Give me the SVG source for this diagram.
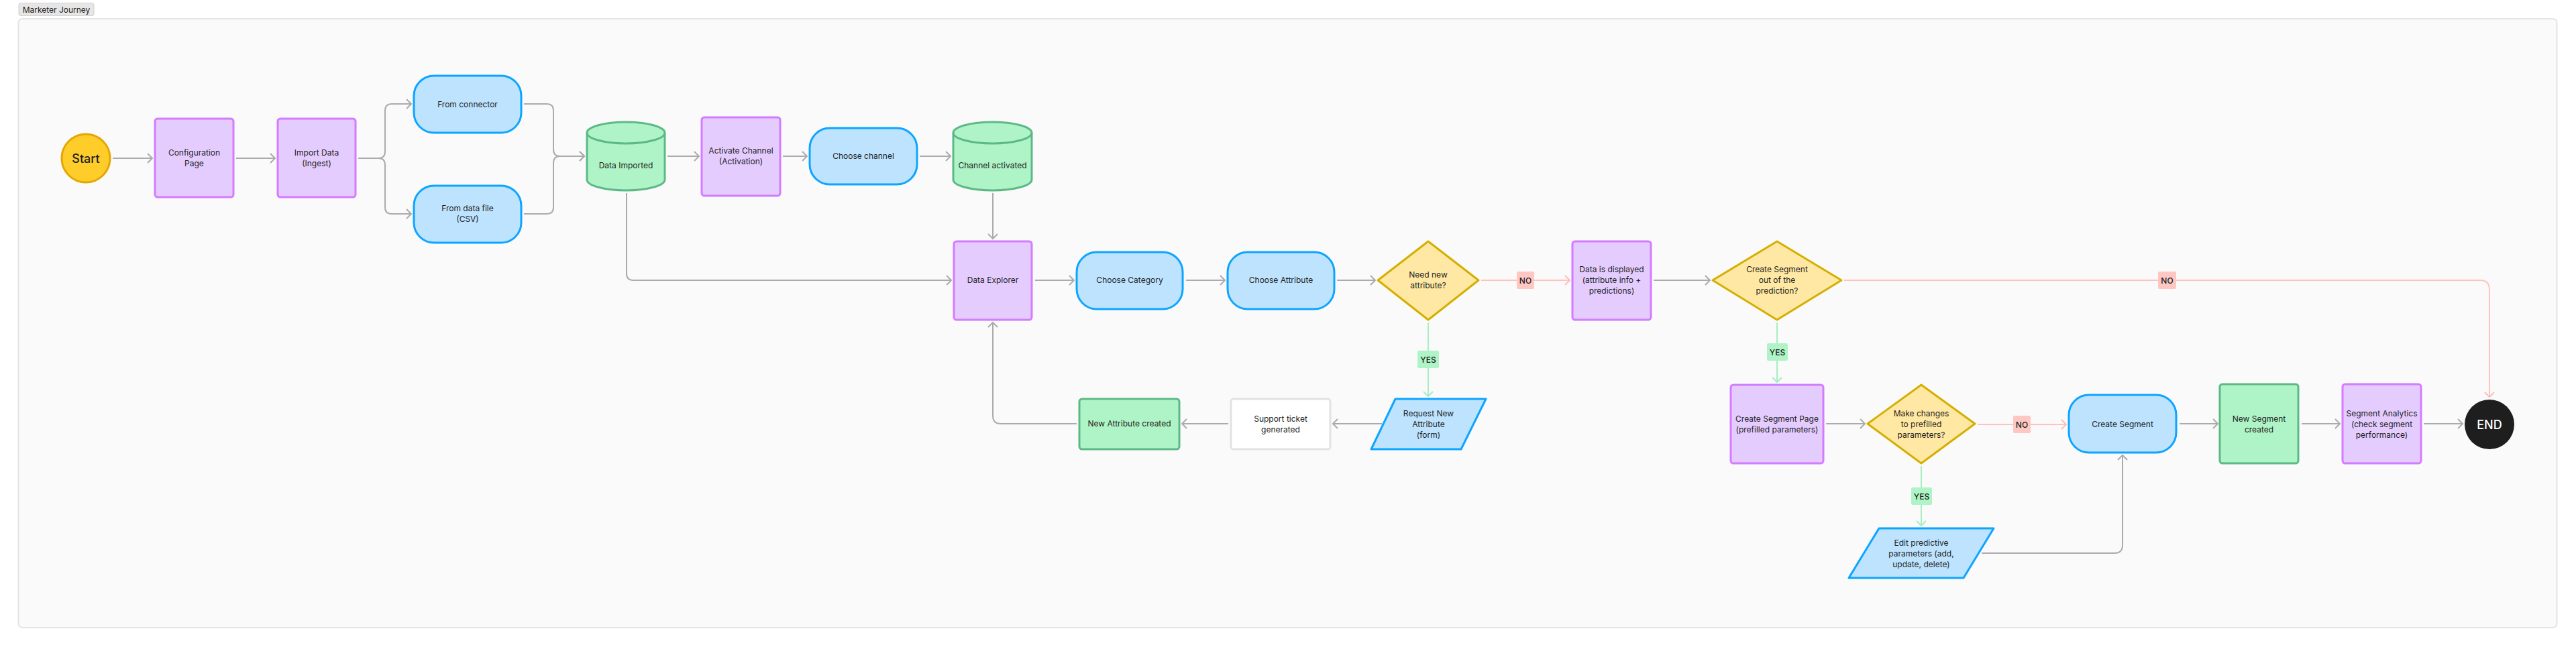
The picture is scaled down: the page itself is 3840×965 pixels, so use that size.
<svg xmlns="http://www.w3.org/2000/svg" width="3840" height="965" viewBox="0 0 3840 965">
<defs>
<marker id="ag" markerUnits="userSpaceOnUse" markerWidth="12" markerHeight="18" refX="8" refY="8" orient="auto"><path d="M1,1 L8,8 L1,15" fill="none" stroke="#ABABAB" stroke-width="2"/></marker>
<marker id="ar" markerUnits="userSpaceOnUse" markerWidth="12" markerHeight="18" refX="8" refY="8" orient="auto"><path d="M1,1 L8,8 L1,15" fill="none" stroke="#FFBDB7" stroke-width="2"/></marker>
<marker id="ay" markerUnits="userSpaceOnUse" markerWidth="12" markerHeight="18" refX="8" refY="8" orient="auto"><path d="M1,1 L8,8 L1,15" fill="none" stroke="#A6EEC0" stroke-width="2"/></marker>
<style>
text{font-family:Inter,"Liberation Sans",sans-serif;font-size:12px;fill:#1E1E1E;text-anchor:middle}
.p{fill:#E4CCFF;stroke:#D47BFF;stroke-width:3}
.b{fill:#BDE3FF;stroke:#0DA5FF;stroke-width:3}
.g{fill:#AFF4C6;stroke:#5CB987;stroke-width:3}
.y{fill:#FFE8A3;stroke:#D5AF00;stroke-width:3;stroke-linejoin:round}
.w{fill:#FFFFFF;stroke:#E2E2E2;stroke-width:3}
.c{fill:none;stroke:#ABABAB;stroke-width:2;marker-end:url(#ag)}
.cr{fill:none;stroke:#FFC2BC;stroke-width:2;marker-end:url(#ar)}
.cy{fill:none;stroke:#A6EEC0;stroke-width:2;marker-end:url(#ay)}
.ln{fill:#FFC7C2}
.ly{fill:#AFF4C6}
.lt{font-weight:500}
</style>
</defs>
<rect x="0" y="0" width="3840" height="965" fill="#FFFFFF"/>
<g id="frame">
<rect x="27.5" y="28" width="3784" height="908" rx="6" fill="#FAFAFA" stroke="#E4E4E4" stroke-width="2"/>
<rect x="28" y="4.5" width="112" height="19" rx="3" fill="#E6E6E6" stroke="#D0D0D0" stroke-width="1"/>
<text x="84" y="18.5" style="font-size:12px">Marketer Journey</text>
</g>
<g id="connectors">
<path class="c" d="M168,236 H227"/>
<path class="c" d="M352,236 H410"/>
<path class="c" d="M534,236 H564 Q574,236 574,226 V165 Q574,155 584,155 H613"/>
<path class="c" d="M534,236 H564 Q574,236 574,246 V309 Q574,319 584,319 H613"/>
<path class="c" d="M781,155 H815 Q825,155 825,165 V223 Q825,233 835,233 H871"/>
<path class="c" d="M781,319 H815 Q825,319 825,309 V243 Q825,233 835,233 H871"/>
<path class="c" d="M995,233 H1042"/>
<path class="c" d="M1167,233 H1203"/>
<path class="c" d="M1371,233 H1417"/>
<path class="c" d="M1480,288 V356"/>
<path class="c" d="M934,288 V408 Q934,418 944,418 H1418"/>
<path class="c" d="M1543,418 H1601"/>
<path class="c" d="M1768,418 H1826"/>
<path class="c" d="M1993,418 H2050"/>
<path class="cr" d="M2208,418 H2340"/>
<path class="cy" d="M2129,481 V591"/>
<path class="c" d="M2060,632 H1987"/>
<path class="c" d="M1831,632 H1762"/>
<path class="c" d="M1605,632 H1492 Q1480,632 1480,620 V481"/>
<path class="c" d="M2465,418 H2549"/>
<path class="cr" d="M2749,418 H3697 Q3711,418 3711,432 V592"/>
<path class="cy" d="M2649,481 V570"/>
<path class="c" d="M2722,632 H2780"/>
<path class="cr" d="M2948,633 H3080"/>
<path class="cy" d="M2864,695 V784"/>
<path class="c" d="M2954,825 H3152 Q3164,825 3164,813 V679"/>
<path class="c" d="M3249,632 H3306"/>
<path class="c" d="M3431,632 H3488"/>
<path class="c" d="M3613,632 H3671"/>
<rect class="ln" x="2261" y="405" width="26" height="26" rx="2"/><text class="lt" x="2274" y="422.5">NO</text>
<rect class="ly" x="2113" y="523" width="32" height="26" rx="2"/><text class="lt" x="2129" y="540.5">YES</text>
<rect class="ln" x="3217" y="405" width="27" height="26" rx="2"/><text class="lt" x="3230.5" y="422.5">NO</text>
<rect class="ly" x="2634" y="512" width="31" height="26" rx="2"/><text class="lt" x="2649.5" y="529.5">YES</text>
<rect class="ln" x="3001" y="620" width="26" height="26" rx="2"/><text class="lt" x="3014" y="637.5">NO</text>
<rect class="ly" x="2849" y="727" width="31" height="26" rx="2"/><text class="lt" x="2864.5" y="744.5">YES</text>
</g>
<g id="start">
<circle cx="128" cy="236" r="36" fill="#FFCD29" stroke="#E5A600" stroke-width="3"/>
<text x="128" y="242.5" style="font-size:18px;font-weight:500">Start</text>
</g>
<g id="config-page">
<rect class="p" x="231" y="177" width="117" height="117" rx="4"/>
<text x="289.5" y="232">Configuration</text><text x="289.5" y="248">Page</text>
</g>
<g id="import-data">
<rect class="p" x="414" y="177" width="116" height="117" rx="4"/>
<text x="472" y="232">Import Data</text><text x="472" y="248">(Ingest)</text>
</g>
<g id="from-connector">
<rect class="b" x="617" y="113" width="160" height="85" rx="30"/>
<text x="697" y="160">From connector</text>
</g>
<g id="from-data-file">
<rect class="b" x="617" y="277" width="160" height="85" rx="30"/>
<text x="697" y="315">From data file</text><text x="697" y="331">(CSV)</text>
</g>
<g id="data-imported">
<path class="g" d="M875,198 A58,16 0 0 1 991,198 L991,268 A58,16 0 0 1 875,268 Z"/>
<path d="M875,198 A58,16 0 0 0 991,198" fill="none" stroke="#5CB987" stroke-width="3"/>
<text x="933" y="251">Data Imported</text>
</g>
<g id="activate-channel">
<rect class="p" x="1046" y="175" width="117" height="117" rx="4"/>
<text x="1104.5" y="229">Activate Channel</text><text x="1104.5" y="245">(Activation)</text>
</g>
<g id="choose-channel">
<rect class="b" x="1207" y="191" width="160" height="84" rx="30"/>
<text x="1287" y="237">Choose channel</text>
</g>
<g id="channel-activated">
<path class="g" d="M1421,198 A58.5,16 0 0 1 1538,198 L1538,268 A58.5,16 0 0 1 1421,268 Z"/>
<path d="M1421,198 A58.5,16 0 0 0 1538,198" fill="none" stroke="#5CB987" stroke-width="3"/>
<text x="1479.5" y="251">Channel activated</text>
</g>
<g id="data-explorer">
<rect class="p" x="1422" y="360" width="116" height="117" rx="4"/>
<text x="1480" y="422">Data Explorer</text>
</g>
<g id="choose-category">
<rect class="b" x="1605" y="376" width="158" height="85" rx="30"/>
<text x="1684" y="422">Choose Category</text>
</g>
<g id="choose-attribute">
<rect class="b" x="1830" y="376" width="159" height="85" rx="30"/>
<text x="1909.5" y="422">Choose Attribute</text>
</g>
<g id="need-new-attribute">
<path class="y" d="M2129,360 L2204,418 L2129,477 L2054,418 Z"/>
<text x="2129" y="414">Need new</text><text x="2129" y="430">attribute?</text>
</g>
<g id="request-new-attribute">
<path class="b" d="M2080,595 L2215,595 L2178,670 L2044,670 Z" stroke-linejoin="round"/>
<text x="2129.5" y="621">Request New</text><text x="2129.5" y="637">Attribute</text><text x="2129.5" y="653">(form)</text>
</g>
<g id="support-ticket">
<rect class="w" x="1835" y="595" width="148" height="75" rx="4"/>
<text x="1909" y="629">Support ticket</text><text x="1909" y="645">generated</text>
</g>
<g id="new-attribute-created">
<rect class="g" x="1609" y="595" width="149" height="75" rx="4"/>
<text x="1683.5" y="636">New Attribute created</text>
</g>
<g id="data-displayed">
<rect class="p" x="2344" y="360" width="117" height="117" rx="4"/>
<text x="2402.5" y="406">Data is displayed</text><text x="2402.5" y="422">(attribute info +</text><text x="2402.5" y="438">predictions)</text>
</g>
<g id="create-segment-decision">
<path class="y" d="M2649,360 L2745,418 L2649,477 L2553,418 Z"/>
<text x="2649" y="406">Create Segment</text><text x="2649" y="422">out of the</text><text x="2649" y="438">prediction?</text>
</g>
<g id="create-segment-page">
<rect class="p" x="2580" y="574" width="138" height="117" rx="4"/>
<text x="2649" y="629">Create Segment Page</text><text x="2649" y="645">(prefilled parameters)</text>
</g>
<g id="make-changes">
<path class="y" d="M2864,574 L2944,632 L2864,691 L2784,632 Z"/>
<text x="2864" y="621">Make changes</text><text x="2864" y="637">to prefilled</text><text x="2864" y="653">parameters?</text>
</g>
<g id="edit-parameters">
<path class="b" d="M2801,788 L2972,788 L2927,862 L2756,862 Z" stroke-linejoin="round"/>
<text x="2864" y="814">Edit predictive</text><text x="2864" y="830">parameters (add,</text><text x="2864" y="846">update, delete)</text>
</g>
<g id="create-segment">
<rect class="b" x="3084" y="589" width="160" height="86" rx="30"/>
<text x="3164" y="637">Create Segment</text>
</g>
<g id="new-segment-created">
<rect class="g" x="3309" y="573" width="117" height="118" rx="4"/>
<text x="3367.5" y="629">New Segment</text><text x="3367.5" y="645">created</text>
</g>
<g id="segment-analytics">
<rect class="p" x="3492" y="573" width="117" height="118" rx="4"/>
<text x="3550.5" y="621">Segment Analytics</text><text x="3550.5" y="637">(check segment</text><text x="3550.5" y="653">performance)</text>
</g>
<g id="end">
<circle cx="3711" cy="633" r="37" fill="#1E1E1E"/>
<text x="3711" y="639.5" style="font-size:18px;font-weight:500;fill:#FFFFFF">END</text>
</g>
</svg>
